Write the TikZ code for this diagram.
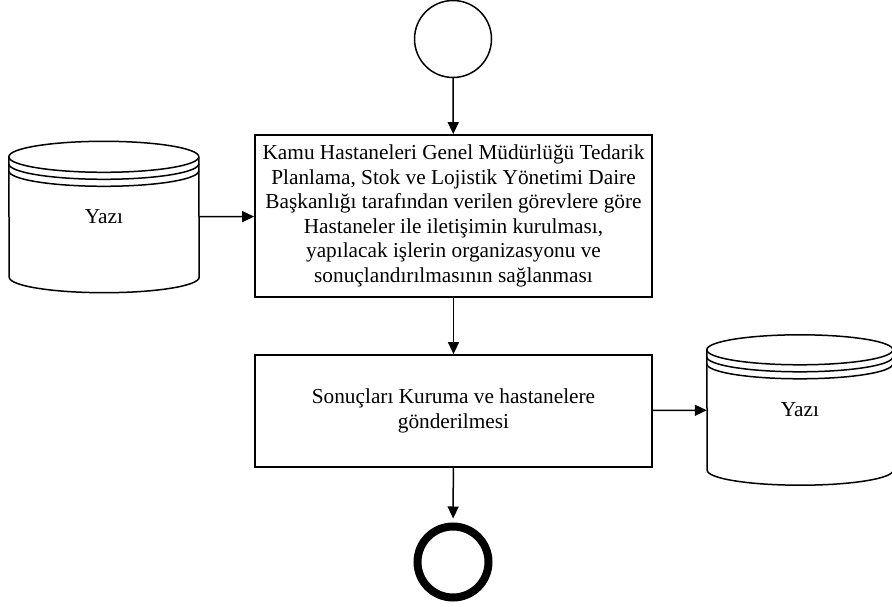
\documentclass[tikz,border=0pt]{standalone}
\usepackage{fontspec}
\setmainfont{Liberation Serif}
\usetikzlibrary{arrows.meta,positioning}
\tikzset{
  flow/.style={-{Triangle[length=12pt,width=11pt]},line width=1.5pt},
  task/.style={draw,line width=1.8pt,minimum width=397pt,align=center,inner sep=0pt},
  store/.style={inner sep=0pt},
  storeline/.style={line width=1.5pt},
}
% cylinder (data store) round a node: name, x radius, y radius
\newcommand{\storeshape}[3]{
  \draw[storeline] (#1.north west) arc[start angle=180,end angle=0,x radius=#2,y radius=#3]
    -- (#1.south east) arc[start angle=0,end angle=-180,x radius=#2,y radius=#3] -- cycle;
  \foreach \d in {0,7,14}{\draw[storeline] ([yshift=-\d pt]#1.north west) arc[start angle=180,end angle=360,x radius=#2,y radius=#3];}
}
\begin{document}
\begin{tikzpicture}[x=1pt,y=1pt,font=\fontsize{21.3}{24.5}\selectfont]
\useasboundingbox (0,0) rectangle (892,606);
\node[draw,circle,line width=1.5pt,minimum size=77pt,inner sep=0pt] (start) at (453,567) {};
\node[task,minimum height=162pt] (plan) at (453.5,390) {Kamu Hastaneleri Genel Müdürlüğü Tedarik\\Planlama, Stok ve Lojistik Yönetimi Daire\\Başkanlığı tarafından verilen görevlere göre\\Hastaneler ile iletişimin kurulması,\\yapılacak işlerin organizasyonu ve\\sonuçlandırılmasının sağlanması};
\node[task,minimum height=112pt] (send) at (453.5,195) {Sonuçları Kuruma ve hastanelere\\gönderilmesi};
\node[draw,circle,line width=8pt,minimum size=71pt,inner sep=0pt] (end) at (453,44) {};
\node[store,minimum width=190pt,minimum height=120pt] (yazi1) at (104,389) {Yazı};
\node[store,minimum width=186pt,minimum height=120pt] (yazi2) at (800,196) {Yazı};
\storeshape{yazi1}{95pt}{15.5pt}
\storeshape{yazi2}{93pt}{15pt}
\draw[flow] (start) -- (plan);
\draw[flow] (yazi1) -- (plan);
\draw[flow] (plan) -- (send);
\draw[flow] (send) -- (yazi2);
\draw[flow,shorten >=4pt] (send) -- (end);
\end{tikzpicture}
\end{document}
